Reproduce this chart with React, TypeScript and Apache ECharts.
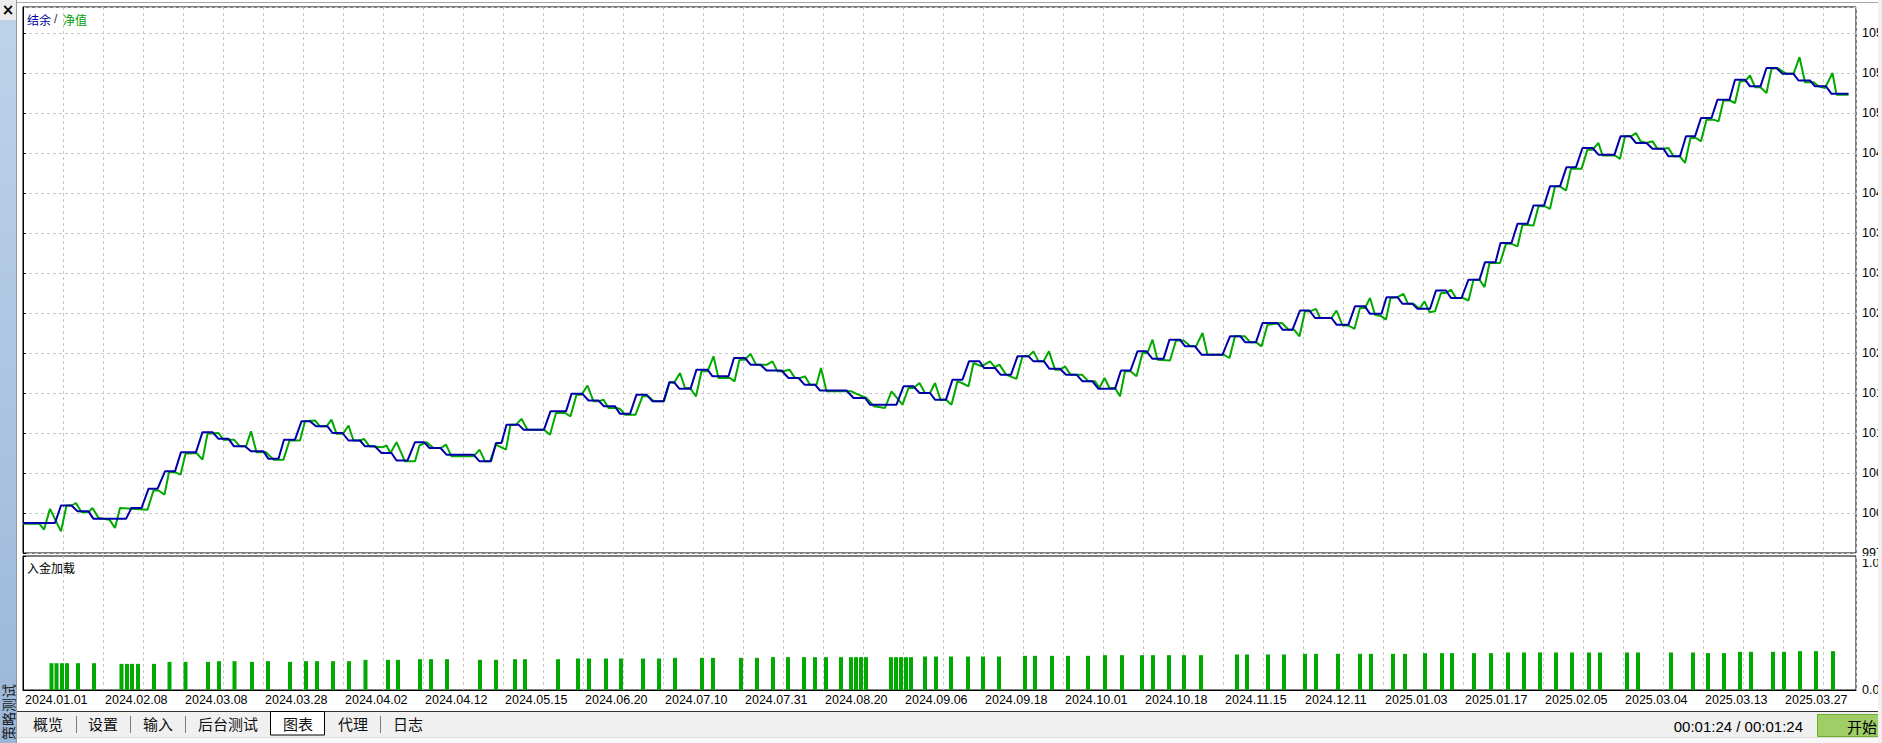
import React, { useEffect, useRef } from "react";
import * as echarts from "echarts";

// ---- tick labels ----
const xLabels = [
  "2024.01.01", "2024.02.08", "2024.03.08", "2024.03.28", "2024.04.02", "2024.04.12",
  "2024.05.15", "2024.06.20", "2024.07.10", "2024.07.31", "2024.08.20", "2024.09.06",
  "2024.09.18", "2024.10.01", "2024.10.18", "2024.11.15", "2024.12.11", "2025.01.03",
  "2025.01.17", "2025.02.05", "2025.03.04", "2025.03.13", "2025.03.27",
];
const tabs = ["概览", "设置", "输入", "后台测试", "图表", "代理", "日志"];

// ---- axis ranges ----
const yMin = 9972;
const yStep = 48;
const yMax = 10627.2;
const xMax = 366.6;
const xStep = 8;

// ---- balance (结余) [deal position, value] ----
const balance: [number, number][] = [
  [0, 10008], [6.4, 10008], [7.6, 10029], [9.7, 10029], [10.9, 10022], [13.1, 10022], [14.1, 10013], [20.6, 10013],
  [21.7, 10026], [23.7, 10026], [25.1, 10049], [26.9, 10049], [28.4, 10070], [30.4, 10070], [31.6, 10093], [34.6, 10093],
  [35.9, 10117], [37.9, 10117], [39.1, 10109], [41.1, 10109], [42.2, 10100], [44.4, 10100], [45.6, 10094], [48.1, 10094],
  [49.1, 10085], [51.1, 10085], [52.2, 10108], [54.4, 10108], [55.7, 10130], [57.4, 10130], [58.6, 10124], [60.9, 10124],
  [61.9, 10116], [63.9, 10116], [65.1, 10107], [67.4, 10107], [68.4, 10100], [70.4, 10100], [71.7, 10092], [73.7, 10092],
  [74.7, 10083], [76.9, 10083], [78.4, 10105], [80.2, 10105], [81.3, 10098], [83.5, 10098], [84.7, 10090], [90.1, 10090],
  [91.3, 10082], [93.6, 10082], [94.6, 10104], [95.7, 10104], [96.7, 10126], [99.1, 10126], [100.1, 10120], [104.2, 10120],
  [105.5, 10142], [108.6, 10142], [109.7, 10163], [111.9, 10163], [113.1, 10155], [115.1, 10155], [116.2, 10148], [118.4, 10148],
  [119.4, 10139], [121.4, 10139], [122.7, 10162], [124.7, 10162], [125.9, 10154], [128.1, 10154], [129.3, 10177], [130.2, 10177],
  [131.3, 10169], [133.5, 10169], [134.7, 10192], [136.9, 10192], [137.9, 10184], [141.1, 10184], [142.2, 10206], [144.4, 10206],
  [145.5, 10198], [147.5, 10198], [148.7, 10191], [151.7, 10191], [153.1, 10182], [155.1, 10182], [156.3, 10174], [158.4, 10174],
  [159.4, 10167], [164.7, 10167], [166.1, 10158], [168.4, 10158], [169.4, 10150], [174.7, 10150], [176.1, 10172], [178.1, 10172],
  [179.3, 10164], [181.4, 10164], [182.4, 10156], [184.6, 10156], [185.9, 10180], [187.9, 10180], [189.2, 10202], [191.3, 10202],
  [192.2, 10194], [194.4, 10194], [195.5, 10186], [197.6, 10186], [198.9, 10208], [201.1, 10208], [202.1, 10202], [204.2, 10202],
  [205.3, 10193], [207.4, 10193], [208.6, 10186], [210.7, 10186], [211.9, 10178], [213.9, 10178], [215.1, 10169], [218.4, 10169],
  [219.6, 10191], [221.5, 10191], [222.9, 10214], [224.7, 10214], [225.9, 10205], [228.1, 10205], [229.3, 10228], [231.4, 10228],
  [232.4, 10220], [234.4, 10220], [235.7, 10210], [239.9, 10210], [241.4, 10232], [243.5, 10232], [244.4, 10225], [246.6, 10225],
  [247.9, 10248], [250.9, 10248], [251.9, 10240], [253.9, 10240], [255.4, 10263], [257.3, 10263], [258.4, 10254], [261.7, 10254],
  [262.7, 10246], [265.1, 10246], [266.4, 10268], [268.4, 10268], [269.4, 10259], [271.7, 10259], [272.7, 10279], [274.9, 10279],
  [275.9, 10271], [277.9, 10271], [278.9, 10265], [281.4, 10265], [282.6, 10287], [284.6, 10287], [285.6, 10278], [287.7, 10278],
  [289.1, 10300], [291.3, 10300], [292.4, 10321], [294.5, 10321], [295.5, 10344], [297.7, 10344], [298.9, 10367], [300.9, 10367],
  [302.1, 10389], [304.2, 10389], [305.4, 10412], [307.4, 10412], [308.7, 10435], [310.6, 10435], [311.9, 10458], [313.9, 10458],
  [315.1, 10450], [318.3, 10450], [319.5, 10472], [321.5, 10472], [322.6, 10464], [324.7, 10464], [325.9, 10457], [328.1, 10457],
  [329.1, 10448], [331.4, 10448], [332.6, 10472], [334.4, 10472], [335.6, 10494], [337.7, 10494], [338.9, 10516], [341.3, 10516],
  [342.4, 10540], [344.4, 10540], [345.4, 10532], [347.5, 10532], [348.7, 10554], [350.7, 10554], [351.9, 10547], [354.1, 10547],
  [355.1, 10539], [357.4, 10539], [358.4, 10532], [360.6, 10532], [361.7, 10523], [365.1, 10523],
];

// ---- equity (净值) [deal position, value] ----
const equity: [number, number][] = [
  [0, 10007], [3.3, 10007], [4.2, 10000], [5.4, 10025], [7.6, 9998], [8.7, 10029], [9.7, 10029], [10.6, 10032],
  [11.7, 10021], [13.1, 10021], [13.9, 10026], [15.1, 10014], [17.3, 10012], [18.4, 10002], [19.4, 10026], [24.9, 10024],
  [26.1, 10047], [27.1, 10047], [28.3, 10042], [29.2, 10069], [30.4, 10069], [31.5, 10066], [32.5, 10091], [34.7, 10092],
  [35.9, 10084], [36.9, 10115], [39.1, 10116], [40.1, 10108], [42.2, 10108], [43.4, 10100], [44.6, 10100], [45.6, 10118],
  [46.7, 10093], [48.6, 10093], [50.1, 10084], [52.1, 10084], [53.3, 10107], [55.4, 10107], [56.4, 10130], [58.4, 10131],
  [59.4, 10124], [60.7, 10124], [61.7, 10132], [62.7, 10115], [64, 10115], [65.1, 10125], [66.1, 10107], [67.4, 10107],
  [68.2, 10109], [69.3, 10100], [72, 10099], [72.7, 10101], [73.5, 10092], [74.7, 10105], [76.4, 10082], [78.4, 10082],
  [79.3, 10101], [80.7, 10105], [82.1, 10098], [83.6, 10098], [84.6, 10102], [85.7, 10088], [90.1, 10088], [91.3, 10096],
  [92.4, 10082], [93.4, 10082], [94.6, 10102], [96.6, 10096], [97.5, 10126], [98.6, 10126], [99.7, 10133], [100.9, 10120],
  [104.2, 10120], [105.4, 10114], [106.6, 10140], [108.4, 10140], [109.5, 10136], [110.7, 10162], [111.7, 10162], [112.9, 10173],
  [114.1, 10154], [115.1, 10154], [116.1, 10156], [117.1, 10146], [118.4, 10146], [119.4, 10145], [120.4, 10138], [122.5, 10138],
  [123.9, 10160], [125, 10160], [126.2, 10154], [128.2, 10154], [129.3, 10177], [130.2, 10176], [131.4, 10188], [132.4, 10170],
  [133.4, 10170], [134.6, 10160], [135.7, 10190], [136.9, 10190], [138.1, 10208], [139.1, 10182], [141.4, 10182], [142.3, 10178],
  [143.3, 10204], [144.4, 10204], [145.5, 10211], [146.6, 10198], [148.8, 10198], [149.9, 10202], [150.9, 10190], [152, 10190],
  [153.3, 10192], [154.4, 10182], [155.4, 10182], [156.4, 10184], [157.4, 10174], [158.7, 10174], [159.6, 10194], [160.7, 10166],
  [165.7, 10166], [166.7, 10163], [168.7, 10158], [170.2, 10148], [172.4, 10146], [173.7, 10166], [175.9, 10150], [177.1, 10170],
  [178.1, 10170], [179.3, 10176], [180.4, 10164], [181.4, 10164], [182.4, 10176], [183.5, 10156], [184.6, 10156], [185.7, 10150],
  [186.9, 10178], [187.8, 10176], [189.1, 10172], [190.1, 10200], [191.7, 10196], [193.4, 10202], [194.4, 10195], [195.3, 10198],
  [196.6, 10186], [198.7, 10181], [199.9, 10208], [201.1, 10208], [202.1, 10214], [203.1, 10202], [204.1, 10202], [205.2, 10214],
  [206.4, 10192], [207.4, 10192], [208.4, 10196], [209.5, 10186], [211.8, 10186], [213.1, 10178], [214.4, 10178], [215.3, 10170],
  [216.3, 10182], [217.3, 10170], [218.4, 10170], [219.4, 10160], [220.4, 10190], [221.5, 10190], [222.7, 10184], [223.9, 10212],
  [224.9, 10212], [225.9, 10228], [226.9, 10204], [229.4, 10203], [230.6, 10227], [232.1, 10227], [233.5, 10220], [234.6, 10220],
  [235.9, 10236], [236.9, 10210], [240.1, 10210], [241.3, 10206], [242.4, 10232], [244.4, 10232], [245.4, 10225], [246.6, 10225],
  [247.7, 10220], [248.9, 10246], [251.8, 10248], [253.1, 10240], [254.2, 10240], [255.3, 10232], [256.4, 10262], [257.4, 10262],
  [258.6, 10265], [259.4, 10254], [261.7, 10254], [262.7, 10263], [263.9, 10245], [265.1, 10245], [266.3, 10241], [267.4, 10266],
  [268.4, 10266], [269.4, 10278], [270.4, 10258], [271.7, 10256], [272.6, 10252], [273.5, 10278], [274.9, 10279], [276.1, 10283],
  [277, 10271], [278.1, 10271], [279.3, 10265], [280.3, 10274], [281.3, 10261], [282.4, 10262], [283.6, 10284], [284.6, 10284],
  [285.6, 10288], [286.6, 10278], [288, 10278], [289.1, 10275], [290.1, 10300], [291.3, 10300], [292.3, 10291], [293.3, 10320],
  [295.4, 10320], [296.6, 10343], [297.7, 10343], [298.9, 10340], [299.9, 10366], [302.1, 10365], [303.1, 10388], [304.4, 10388],
  [305.4, 10385], [306.4, 10412], [307.4, 10412], [308.6, 10407], [309.6, 10433], [311.7, 10433], [312.9, 10456], [313.9, 10456],
  [315.1, 10464], [315.9, 10449], [318.4, 10449], [319.4, 10445], [320.4, 10472], [321.6, 10472], [322.6, 10476], [323.5, 10466],
  [324.7, 10464], [325.9, 10466], [326.9, 10457], [328.1, 10457], [329.1, 10458], [330.1, 10448], [331.4, 10448], [332.4, 10440],
  [333.5, 10470], [334.6, 10470], [335.6, 10466], [336.7, 10492], [338.1, 10492], [339.1, 10490], [340.1, 10515], [341.4, 10515],
  [342.4, 10512], [343.4, 10538], [344.4, 10538], [345.4, 10545], [346.4, 10531], [347.5, 10531], [348.7, 10524], [349.7, 10553],
  [350.9, 10554], [352.7, 10547], [354.1, 10547], [355.3, 10567], [356.4, 10537], [358.1, 10537], [359.1, 10532], [360.4, 10530],
  [361.9, 10548], [362.7, 10522], [365.1, 10522],
];

// ---- deposit load (入金加载) [deal position, load] ----
const load: [number, number][] = [
  [5.7, 0.2], [6.7, 0.2], [7.8, 0.2], [8.8, 0.2], [11, 0.2], [14.2, 0.2], [19.7, 0.195], [20.8, 0.195],
  [21.8, 0.195], [23, 0.195], [26.2, 0.195], [29.3, 0.21], [32.5, 0.21], [37, 0.21], [39.2, 0.215], [42.3, 0.215],
  [45.8, 0.21], [49, 0.215], [53.4, 0.21], [56.6, 0.215], [58.8, 0.215], [62, 0.215], [65.2, 0.215], [68.5, 0.225],
  [73, 0.225], [75, 0.225], [79.4, 0.23], [81.6, 0.23], [84.8, 0.23], [91.4, 0.225], [94.6, 0.225],
  [98.4, 0.23], [100.4, 0.23], [107, 0.23], [111, 0.235], [113.2, 0.235], [116.6, 0.235], [119.6, 0.235], [124, 0.235],
  [127.2, 0.235], [130.4, 0.24], [135.8, 0.24], [138, 0.24], [143.6, 0.24], [146.8, 0.24], [150, 0.245], [153, 0.245],
  [156.2, 0.245], [158.4, 0.245], [160.6, 0.245], [163.6, 0.245], [165.6, 0.245], [166.6, 0.245], [167.6, 0.245], [168.6, 0.245],
  [173.6, 0.245], [174.6, 0.245], [175.6, 0.245], [176.6, 0.245], [177.6, 0.245], [180.4, 0.25], [182.6, 0.25], [185.6, 0.25],
  [189, 0.25], [192, 0.25], [195.2, 0.25], [200.4, 0.255], [202.4, 0.255], [205.8, 0.255], [209, 0.255], [213, 0.255],
  [216.4, 0.26], [219.8, 0.26], [223.8, 0.26], [226, 0.26], [229.2, 0.26], [232.2, 0.26], [235.6, 0.26], [242.8, 0.265],
  [244.8, 0.265], [249, 0.265], [252.2, 0.265],
  [256.4, 0.27], [258.6, 0.27], [263, 0.27], [267.4, 0.27], [269.6, 0.27], [274, 0.27], [276.4, 0.27], [280.4, 0.275],
  [283.8, 0.275], [285.8, 0.275], [290.2, 0.275], [293.6, 0.275], [297, 0.28], [300.2, 0.28], [303.4, 0.28], [306.6, 0.28],
  [309.8, 0.28], [313.2, 0.28], [315.4, 0.28], [320.8, 0.28], [323, 0.28], [329.6, 0.28], [334, 0.28], [337, 0.275],
  [340.2, 0.275], [343.4, 0.285], [345.6, 0.285], [350, 0.285], [352.2, 0.285], [355.4, 0.29], [358.6, 0.29], [362, 0.29],
];

const NUM = '"Liberation Sans", Arial, sans-serif';
const CJK = '"Noto Sans CJK SC", sans-serif';
const BLUE = "#0000aa";
const GREEN = "#00a800";
const GRIDC = "#c8c8c8";

export default function App() {
  const ref = useRef<HTMLDivElement>(null);
  useEffect(() => {
    if (!ref.current) return;
    const chart = echarts.init(ref.current, null, { renderer: "svg" });

    const tabX = [48, 103, 158, 228, 298, 353, 408];
    const sepX = [76.5, 130.5, 185.5, 380.5];
    const graphic: any[] = [
      { type: "rect", silent: true, shape: { x: 0, y: 0, width: 16, height: 20 }, style: { fill: "#ececec" } },
      { type: "text", silent: true, x: 8, y: 10, style: { text: "×", font: 'bold 15px "DejaVu Sans"', fill: "#000", align: "center", verticalAlign: "middle" } },
      {
        type: "rect", silent: true, shape: { x: 0, y: 20, width: 16, height: 723 },
        style: { fill: new echarts.graphic.LinearGradient(0, 0, 0, 1, [{ offset: 0, color: "#bdd3ea" }, { offset: 1, color: "#9bb7d8" }]) },
      },
      { type: "line", silent: true, shape: { x1: 16.5, y1: 0, x2: 16.5, y2: 743 }, style: { stroke: "#9a9a9a", lineWidth: 1 } },
      { type: "line", silent: true, shape: { x1: 17, y1: 2.5, x2: 1878, y2: 2.5 }, style: { stroke: "#a8a8a8", lineWidth: 1 } },
      { type: "rect", silent: true, z: 100, shape: { x: 1878, y: 0, width: 4, height: 743 }, style: { fill: "#f0f0f0" } },
      { type: "rect", silent: true, z: 100, shape: { x: 1857, y: 556, width: 21, height: 3 }, style: { fill: "#fff" } },
      { type: "rect", silent: true, shape: { x: 17, y: 711, width: 1865, height: 26 }, style: { fill: "#f0f0f0" } },
      { type: "rect", silent: true, shape: { x: 17, y: 737, width: 1865, height: 6 }, style: { fill: "#f8f8f8" } },
      { type: "line", silent: true, shape: { x1: 17, y1: 737.5, x2: 1882, y2: 737.5 }, style: { stroke: "#dcdcdc", lineWidth: 1 } },
      { type: "line", silent: true, shape: { x1: 17, y1: 711.5, x2: 1882, y2: 711.5 }, style: { stroke: "#333", lineWidth: 1 } },
      { type: "rect", silent: true, shape: { x: 270.5, y: 711.5, width: 54, height: 23.5 }, style: { fill: "#fff", stroke: "#000", lineWidth: 1 } },
      ...sepX.map((x) => ({ type: "line", silent: true, shape: { x1: x, y1: 716, x2: x, y2: 733 }, style: { stroke: "#7a7a7a", lineWidth: 1 } })),
      ...tabs.map((t, i) => ({
        type: "text", silent: true, x: tabX[i], y: 723,
        style: { text: t, font: `15px ${CJK}`, fill: "#111", align: "center", verticalAlign: "middle" },
      })),
      { type: "text", silent: true, x: 1803, y: 726, style: { text: "00:01:24 / 00:01:24", font: `15px ${NUM}`, fill: "#000", align: "right", verticalAlign: "middle" } },
      { type: "rect", silent: true, shape: { x: 1817.5, y: 714.5, width: 70, height: 22 }, style: { fill: "#9fcd66", stroke: "#6fae2c", lineWidth: 1 } },
      { type: "text", silent: true, x: 1847, y: 726, style: { text: "开始", font: `15px ${CJK}`, fill: "#000", align: "left", verticalAlign: "middle" } },
      { type: "text", silent: true, x: 27, y: 19, style: { text: "结余", font: `12px ${CJK}`, fill: "#0000a0", align: "left", verticalAlign: "middle" } },
      { type: "text", silent: true, x: 54, y: 19, style: { text: "/", font: `12px ${NUM}`, fill: "#333", align: "left", verticalAlign: "middle" } },
      { type: "text", silent: true, x: 63, y: 19, style: { text: "净值", font: `12px ${CJK}`, fill: "#00a000", align: "left", verticalAlign: "middle" } },
      { type: "text", silent: true, x: 27, y: 567, style: { text: "入金加载", font: `12px ${CJK}`, fill: "#000", align: "left", verticalAlign: "middle" } },
      {
        type: "text", silent: true, x: 8, y: 712, rotation: Math.PI / 2,
        style: { text: "策略测试", font: `14px ${CJK}`, fill: "#1a1a1a", align: "center", verticalAlign: "middle" },
      },
    ];

    const splitDash = { show: true, lineStyle: { color: GRIDC, width: 1, type: [3, 3] } };

    chart.setOption({
      animation: false,
      textStyle: { fontFamily: NUM },
      graphic,
      grid: [
        {
          left: 23, top: 7, width: 1833, height: 546, show: true, borderColor: "#000", borderWidth: 1, backgroundColor: "#fff",
          containLabel: false, outerBoundsMode: "none",
        },
        {
          left: 23, top: 556, width: 1833, height: 134, show: true, borderColor: "#000", borderWidth: 1, backgroundColor: "#fff",
          containLabel: false, outerBoundsMode: "none",
        },
      ],
      xAxis: [
        {
          gridIndex: 0, type: "value", min: 0, max: xMax, interval: xStep,
          axisLine: { show: false }, axisTick: { show: false }, axisLabel: { show: false },
          splitLine: splitDash,
        },
        {
          gridIndex: 1, type: "value", min: 0, max: xMax, interval: xStep,
          axisLine: { show: true, lineStyle: { color: "#000" } }, axisTick: { show: false },
          splitLine: splitDash,
          axisLabel: {
            show: true, align: "left", margin: 3, padding: [0, 0, 0, 2], color: "#000", fontSize: 12.5, fontFamily: NUM,
            showMaxLabel: false,
            formatter: (v: number) => {
              const k = Math.round(v) / (xStep * 2);
              return Number.isInteger(k) && k < xLabels.length && Math.abs(v - Math.round(v)) < 1e-6 ? xLabels[k] : "";
            },
          },
        },
      ],
      yAxis: [
        {
          gridIndex: 0, type: "value", position: "right", min: yMin, max: yMax, interval: yStep,
          axisLine: { show: true, lineStyle: { color: "#000" } },
          axisTick: { show: true, length: 3, lineStyle: { color: "#000" } },
          axisLabel: {
            margin: 6, color: "#000", fontSize: 12.5, fontFamily: NUM, showMaxLabel: false,
            formatter: (v: number) => String(Math.round(v)),
          },
          splitLine: splitDash,
        },
        {
          gridIndex: 1, type: "value", position: "right", min: 0, max: 1, interval: 1,
          axisLine: { show: true, lineStyle: { color: "#000" } },
          axisTick: { show: true, length: 3, lineStyle: { color: "#000" } },
          axisLabel: {
            margin: 6, color: "#000", fontSize: 12.5, fontFamily: NUM,
            formatter: (v: number) => (v >= 1 ? "\n1.00" : "0.00"),
          },
          splitLine: { show: false },
        },
      ],
      series: [
        {
          name: "净值", type: "line", xAxisIndex: 0, yAxisIndex: 0, data: equity, symbol: "none",
          lineStyle: { color: GREEN, width: 2 }, itemStyle: { color: GREEN }, z: 3,
        },
        {
          name: "结余", type: "line", xAxisIndex: 0, yAxisIndex: 0, data: balance, symbol: "none",
          lineStyle: { color: BLUE, width: 2 }, itemStyle: { color: BLUE }, z: 4,
        },
        {
          name: "入金加载", type: "bar", xAxisIndex: 1, yAxisIndex: 1, data: load, barWidth: 4,
          itemStyle: { color: "#00aa00" },
        },
      ],
    });
    return () => chart.dispose();
  }, []);
  return (
    <div
      ref={ref}
      style={{ position: "absolute", left: 0, top: 0, width: 1882, height: 743, background: "#fff" }}
    />
  );
}
